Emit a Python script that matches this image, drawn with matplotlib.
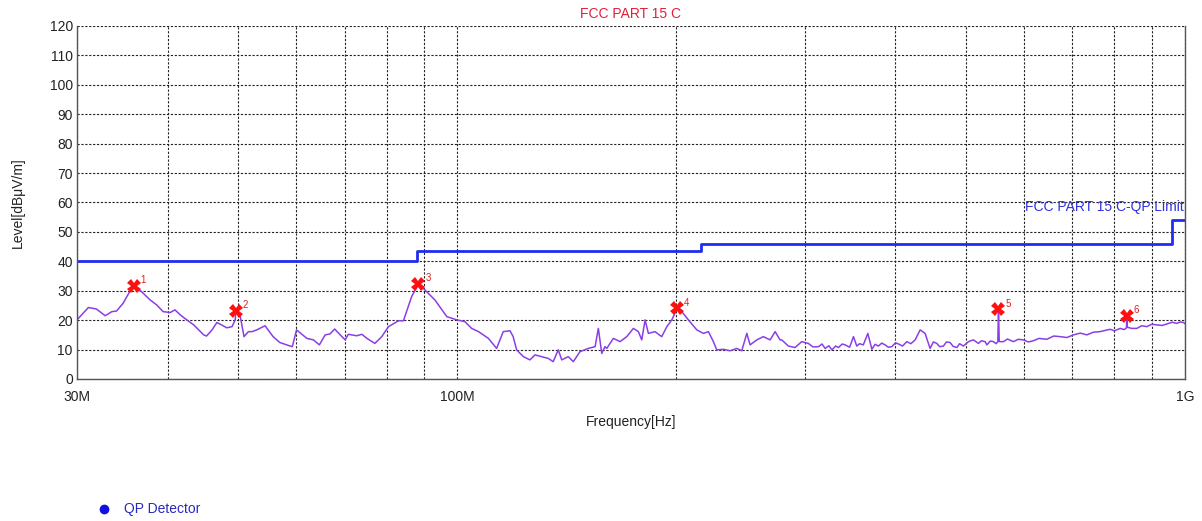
import matplotlib.pyplot as plt
import matplotlib.ticker as mticker
import numpy as np

plt.rcParams['font.family'] = ['Liberation Sans', 'DejaVu Sans']

# measured trace (MHz, dBuV/m)
trace_freq = [30.0, 31.1, 31.9, 32.8, 33.5, 34.0, 34.7, 35.5, 35.9, 36.8,
              37.8, 38.6, 39.4, 40.3, 40.9, 41.6, 42.2, 43.4, 44.8, 45.2,
              46.0, 46.7, 47.4, 48.2, 49.0, 49.5, 49.6, 50.3, 50.9, 51.6,
              52.2, 53.0, 54.4, 55.8, 57.0, 58.9, 59.3, 60.1, 62.1, 63.4,
              64.6, 65.8, 66.8, 67.8, 69.0, 70.1, 70.8, 72.7, 73.9, 75.1,
              77.0, 78.7, 80.4, 83.0, 84.3, 86.5, 88.4, 90.2, 93.1, 96.7,
              99.8, 102.4, 104.6, 106.9, 110.3, 113.2, 115.6, 118.1, 119.3, 120.6,
              123.2, 125.8, 127.8, 130.6, 133.3, 135.4, 137.6, 139.1, 142.0, 144.3,
              147.4, 151.3, 154.6, 156.2, 157.9, 159.5, 160.4, 163.8, 167.3, 170.9,
              174.5, 177.3, 179.2, 181.1, 183.0, 186.9, 190.9, 194.0, 197.1, 200.2,
              203.4, 207.7, 213.3, 217.8, 221.3, 224.8, 227.2, 232.0, 237.0, 242.1,
              245.9, 249.9, 252.5, 257.9, 263.3, 269.0, 273.3, 277.6, 279.1, 285.0,
              291.1, 297.3, 303.6, 308.0, 313.6, 317.0, 320.2, 324.0, 327.1, 331.0,
              334.0, 338.0, 341.1, 346.0, 350.2, 353.9, 357.0, 361.3, 366.5, 371.2,
              375.0, 378.9, 383.0, 387.1, 391.0, 395.5, 400.0, 403.9, 409.0, 414.7,
              420.0, 425.7, 432.5, 439.3, 446.3, 451.0, 455.9, 460.0, 465.6, 470.0,
              475.5, 480.0, 485.7, 490.0, 496.0, 503.9, 511.9, 520.1, 525.0, 531.2,
              534.2, 540.0, 545.5, 550.0, 553.0, 554.2, 555.5, 563.1, 570.0, 581.0,
              590.0, 599.5, 609.0, 618.8, 630.0, 645.7, 660.0, 673.5, 688.0, 702.6,
              718.0, 733.0, 748.0, 764.5, 776.0, 789.1, 800.0, 814.4, 825.0, 831.0,
              831.9, 833.0, 845.0, 858.6, 872.0, 886.2, 900.0, 914.8, 930.0, 944.2,
              960.0, 974.6, 985.0, 995.1, 1000.0]
trace_level = [20.1, 24.3, 23.8, 21.5, 22.9, 23.1, 25.7, 30.0, 31.6, 29.7,
               26.9, 25.2, 22.9, 22.6, 23.5, 21.8, 20.6, 18.4, 15.0, 14.6,
               16.7, 19.2, 18.4, 17.4, 17.8, 20.1, 23.2, 21.2, 14.4, 16.1,
               16.1, 16.7, 18.1, 14.4, 12.4, 11.2, 11.0, 16.7, 13.8, 13.3,
               11.6, 15.0, 15.3, 17.0, 15.0, 13.3, 15.2, 14.7, 15.2, 13.8,
               12.1, 14.4, 17.8, 19.8, 19.8, 28.0, 32.3, 30.3, 26.9, 21.2,
               20.1, 19.5, 17.2, 16.1, 13.8, 10.4, 16.1, 16.4, 14.4, 9.9,
               7.6, 6.5, 8.2, 7.6, 7.0, 5.9, 9.9, 6.5, 7.6, 5.9,
               9.3, 10.4, 11.0, 17.2, 8.7, 11.0, 10.4, 13.8, 12.7, 14.4,
               17.2, 16.1, 13.3, 20.1, 15.5, 16.1, 14.4, 17.8, 20.1, 23.7,
               22.9, 20.1, 16.7, 15.5, 16.1, 12.7, 9.9, 10.1, 9.6, 10.4,
               9.6, 15.5, 11.6, 13.3, 14.4, 13.3, 16.1, 13.3, 13.3, 11.2,
               10.7, 12.7, 12.1, 10.9, 11.0, 11.9, 10.4, 11.3, 9.9, 11.2,
               10.7, 11.9, 11.6, 10.8, 14.4, 11.2, 12.0, 11.6, 15.5, 10.1,
               11.8, 11.2, 12.2, 11.6, 10.8, 11.0, 12.3, 11.9, 11.2, 12.7,
               12.0, 13.3, 16.7, 15.5, 10.4, 12.6, 12.1, 11.0, 11.2, 12.6,
               12.4, 11.1, 10.7, 12.0, 11.2, 12.7, 13.3, 12.1, 13.0, 12.7,
               11.6, 12.9, 12.7, 12.0, 12.7, 23.7, 12.7, 12.7, 13.6, 12.7,
               13.5, 13.3, 12.6, 13.0, 13.8, 13.5, 14.6, 14.4, 14.1, 15.0,
               15.6, 15.0, 15.9, 16.1, 16.5, 16.9, 16.4, 17.2, 16.8, 17.4,
               21.4, 17.6, 17.2, 17.2, 18.1, 17.8, 18.6, 18.4, 18.2, 18.7,
               19.3, 18.9, 19.4, 19.2, 18.8]

# QP limit (step edges)
limit_freq = [30, 88, 216, 960, 1000]
limit_level = [40, 43.5, 46, 54, 54]

# peak markers
marker_freq = [35.9, 49.6, 88.4, 200.2, 554.2, 831.9]
marker_level = [31.6, 23.2, 32.3, 24.0, 23.7, 21.4]
marker_label = ['1', '2', '3', '4', '5', '6']

fig = plt.figure(figsize=(12.02, 5.21), dpi=100)
ax = fig.add_axes([77 / 1202, 142 / 521, 1108 / 1202, 353 / 521])

ax.plot(trace_freq, trace_level, color='#8a3fe6', lw=1.1)
ax.plot(limit_freq, limit_level, color='#1f2df0', lw=2, drawstyle='steps-post')
ax.plot(marker_freq, marker_level, linestyle='none', marker='X', color='#ff1010',
        markersize=10, markeredgewidth=0)
for f, l, t in zip(marker_freq, marker_level, marker_label):
    ax.annotate(t, (f, l), xytext=(5, 2), textcoords='offset points',
                color='#e02020', fontsize=7)

ax.text(995, 58.6, 'FCC PART 15 C-QP Limit', color='#3030e0', fontsize=10,
        ha='right', va='center')

ax.set_xscale('log')
ax.set_xlim(30, 1000)
ax.set_ylim(0, 120)
ax.set_yticks(np.arange(0, 121, 10))
ax.xaxis.set_major_locator(mticker.FixedLocator([30, 100, 1000]))
ax.xaxis.set_major_formatter(mticker.FixedFormatter(['30M', '100M', '1G']))
ax.xaxis.set_minor_locator(mticker.FixedLocator(
    [40, 50, 60, 70, 80, 90, 200, 300, 400, 500, 600, 700, 800, 900]))
ax.xaxis.set_minor_formatter(mticker.NullFormatter())
ax.tick_params(axis='both', which='both', length=0, labelsize=10, colors='#222222')
ax.tick_params(axis='x', pad=8)
ax.tick_params(axis='y', pad=3)

ax.grid(True, which='both', color='#222222', linestyle=(0, (2, 1.5)), lw=0.8)
for s in ['left', 'bottom', 'right']:
    ax.spines[s].set_color('#555555')
    ax.spines[s].set_linewidth(1)
ax.spines['top'].set_visible(False)

ax.set_title('FCC PART 15 C', color='#e0203a', fontsize=10, pad=6)
ax.set_xlabel('Frequency[Hz]', fontsize=10, color='#222222', labelpad=8)
ax.set_ylabel('Level[dB\u03bcV/m]', fontsize=10, color='#222222', labelpad=18)

fig.lines.append(plt.Line2D([104 / 1202], [1 - 509 / 521], transform=fig.transFigure,
                            marker='o', markersize=6, color='#1010e0', linestyle='none'))
fig.text(124 / 1202, 1 - 509 / 521, 'QP Detector', color='#2a2ac0', fontsize=10,
         ha='left', va='center')

fig.savefig('out.png', dpi=100)
